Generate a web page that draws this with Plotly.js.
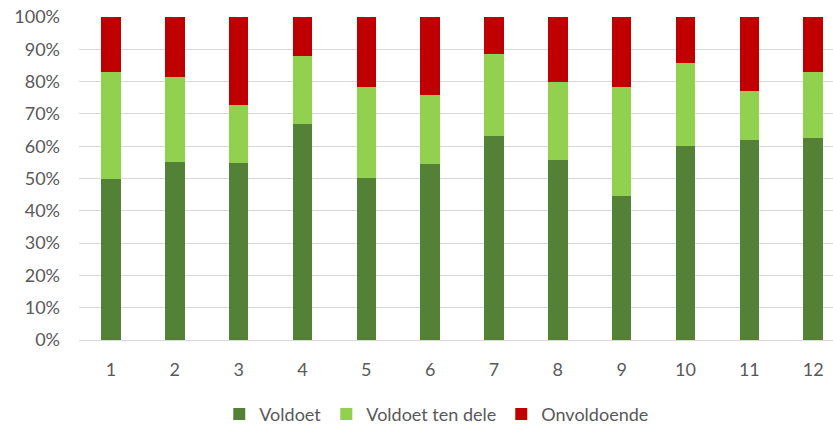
<!DOCTYPE html>
<html>
<head>
<meta charset="utf-8">
<script src="https://cdn.plot.ly/plotly-3.0.1.min.js"></script>
<style>html,body{margin:0;padding:0;background:#fff;}#chart{width:833px;height:427px;}</style>
</head>
<body>
<div id="chart"></div>
<script>
const categories = [1,2,3,4,5,6,7,8,9,10,11,12];
const voldoet = [50.0, 55.1, 54.7, 67.0, 50.3, 54.6, 63.3, 55.8, 44.6, 60.1, 62.0, 62.4];
const voldoetTenDele = [33.0, 26.3, 18.1, 20.9, 27.9, 21.4, 25.1, 24.2, 33.6, 25.7, 15.1, 20.5];
const onvoldoende = [17.0, 18.6, 27.2, 12.1, 21.8, 24.0, 11.6, 20.0, 21.8, 14.2, 22.9, 17.1];
const seriesNames = ["Voldoet", "Voldoet ten dele", "Onvoldoende"];
const seriesColors = ["#538135", "#92D050", "#C00000"];

const font = "Lato, 'Open Sans', sans-serif";
const data = [voldoet, voldoetTenDele, onvoldoende].map((vals, i) => ({
  type: 'bar',
  x: categories,
  y: vals.map(v => v / 100),
  name: seriesNames[i],
  width: 0.305,
  marker: {color: seriesColors[i], line: {width: 0}},
  hoverinfo: 'skip'
}));

const layout = {
  width: 833, height: 427,
  barmode: 'stack',
  margin: {l: 79.4, r: 0, t: 16.7, b: 87, pad: 0, autoexpand: false},
  paper_bgcolor: '#fff', plot_bgcolor: '#fff',
  font: {family: font, color: '#595959', size: 18},
  showlegend: true,
  legend: {orientation: 'h', x: 0.4745, xanchor: 'center', yref: 'container', y: 0.03, yanchor: 'middle',
           font: {size: 18, color: '#595959'}, traceorder: 'normal', itemwidth: 30},
  xaxis: {
    type: 'linear', range: [0.5, 12.31], tickvals: categories, ticktext: categories.map(String),
    showgrid: false, zeroline: false, showline: false, ticks: '', fixedrange: true,
    ticklabelstandoff: 17, automargin: false
  },
  yaxis: {
    range: [0, 1], dtick: 0.1, tickformat: '.0%', showgrid: true, gridcolor: '#D9D9D9', gridwidth: 1,
    zeroline: true, zerolinecolor: '#D9D9D9', zerolinewidth: 1, showline: false, ticks: '',
    ticklabelstandoff: 18, fixedrange: true, automargin: false
  }
};
Plotly.newPlot('chart', data, layout, {displayModeBar: false, staticPlot: true});
</script>
</body>
</html>
